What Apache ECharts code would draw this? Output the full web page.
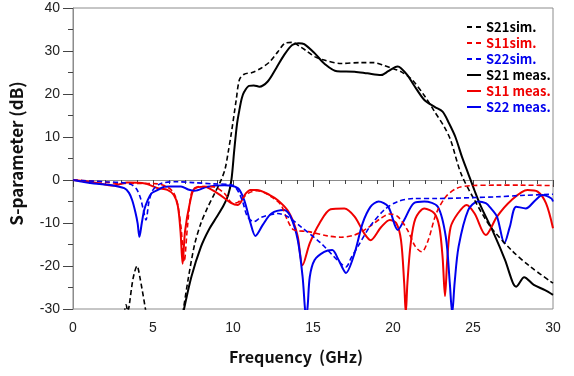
<!DOCTYPE html>
<html>
<head>
<meta charset="utf-8">
<script src="https://cdn.jsdelivr.net/npm/echarts@6/dist/echarts.min.js"></script>
<style>
  html, body { margin: 0; padding: 0; background: #fff; }
  #chart { width: 574px; height: 376px; }
</style>
</head>
<body>
<div id="chart"></div>
<script>
// [GHz, dB] pairs; null breaks the line
const s21Sim = [
  [3.2, -31], [3.32, -29], [3.42, -30.5], [3.5, -29.5], [3.75, -23], [4.0, -20], [4.2, -23], [4.55, -30.5],
  [5.5, null],
  [6.85, -31], [6.9, -30], [7.2, -23], [7.6, -15], [8, -10], [8.4, -6.5], [8.8, -3.5], [9.2, -0.5], [9.5, 2.5],
  [9.7, 6.5], [9.9, 11], [10.2, 18.6], [10.4, 23.3], [10.7, 24.6], [11.2, 25], [11.75, 26], [12.3, 27.5],
  [12.8, 29.8], [13.3, 31.9], [13.7, 32], [14.2, 31], [14.6, 30], [15.1, 28.7], [15.7, 27.9], [16.75, 27.1],
  [18, 27.3], [18.8, 27.3], [19.4, 26.7], [19.9, 26], [20.5, 25.2], [21.2, 23.3], [22, 19.4], [22.6, 15.9],
  [23.2, 12.4], [23.6, 9.3], [24.25, 1.5], [25.1, -4.7], [26.1, -10.9], [27.4, -16.3], [28.6, -20.2], [30, -24]
];
const s11Sim = [
  [0, 0], [1, -0.2], [2, -0.5], [3, -0.8], [4, -0.8], [5, -0.8], [5.7, -1.3], [6.2, -2.5], [6.5, -5],
  [6.75, -11], [6.95, -19], [7.15, -11], [7.4, -3.1], [7.7, -1.8], [8, -1.5], [8.8, -1.6], [9.46, -3.1],
  [9.98, -5.4], [10.3, -5.2], [10.6, -4.2], [11, -3], [11.5, -2.5], [12, -3], [12.4, -3.9], [13, -5.8],
  [13.4, -9.3], [13.8, -11.6], [14.7, -12], [15.9, -13], [16.75, -13.3], [17.6, -12.8], [18.4, -11.2],
  [19.25, -8.9], [19.8, -7.9], [20.3, -8.5], [20.9, -11.6], [21.4, -15.5], [21.8, -16.7], [22.2, -14],
  [22.7, -7.8], [23.3, -3.9], [24, -1.9], [24.9, -1.3], [26.5, -1.2], [28, -1.2], [30, -1.3]
];
const s22Sim = [
  [0, 0], [1, -0.2], [2, -0.4], [3, -0.6], [3.6, -1], [3.95, -2], [4.2, -4], [4.4, -7], [4.56, -9.3],
  [4.75, -5], [5, -2.3], [5.5, -0.8], [6.5, -0.4], [7.5, -0.6], [8.8, -0.9], [9.9, -1.1], [10.3, -2.5],
  [10.6, -5], [10.9, -8.5], [11.3, -9.7], [11.75, -8.7], [12.8, -7.8], [13.4, -8.5], [14.25, -10.9],
  [15.5, -14.7], [16.3, -17.8], [16.8, -19.6], [17.06, -20.2], [17.4, -18], [17.8, -15.5], [18.6, -10.6],
  [19.5, -6.8], [20.3, -5], [21.3, -4.3], [22.8, -4.3], [24.9, -4.1], [26.5, -3.9], [28, -3.6], [30, -3.3]
];
const s21Meas = [
  [6.9, -31], [6.94, -30], [7.4, -22.5], [8, -15.5], [8.5, -11.5], [9, -8.5], [9.4, -6], [9.7, -3.5],
  [9.9, 0], [10.08, 7], [10.25, 13], [10.4, 16.3], [10.55, 19], [10.7, 20.5], [11, 21.9], [11.3, 22],
  [11.65, 21.7], [12.17, 22.9], [12.7, 26], [13.2, 29.1], [13.7, 31.4], [14.1, 31.8], [14.45, 31.6],
  [15.1, 29.5], [15.7, 27.1], [16.5, 25.3], [17.6, 25.2], [18.4, 24.8], [19.25, 24.4], [19.7, 25.3],
  [20.1, 26.2], [20.3, 26.4], [20.5, 26], [20.9, 24.4], [21.3, 22.1], [21.96, 18.6], [22.6, 17],
  [23.1, 15.9], [23.5, 13.2], [23.9, 10], [24.3, 5.5], [24.7, 1.5], [25.1, -2.5], [25.5, -6.2],
  [26.3, -12.4], [27, -18.6], [27.5, -24], [27.7, -24.8], [28.2, -22.6], [28.8, -24.4], [29.5, -25.6], [30, -26.7]
];
const s11Meas = [
  [0, 0], [1, -0.4], [1.8, -0.9], [2.4, -1.3], [2.9, -1], [3.4, -0.6], [4.5, -0.8], [5.3, -1.9], [5.9, -2.3],
  [6.3, -3.5], [6.55, -6], [6.72, -12], [6.85, -19.5], [7.0, -12], [7.3, -5.4], [7.6, -1.9], [8.2, -1.55],
  [9.04, -3.1], [9.9, -5.4], [10.3, -5.8], [10.8, -3.1], [11.1, -2.3], [11.5, -2.3], [12.3, -3.5],
  [12.8, -4.7], [13.4, -7], [13.8, -10], [14.05, -13.2], [14.35, -19.8], [14.8, -14.7], [15.4, -10.1],
  [16.1, -6.8], [16.96, -6.6], [17.6, -8.5], [18.2, -12.4], [18.6, -14], [19.25, -11], [19.8, -9.3],
  [20.2, -10], [20.5, -14], [20.7, -24], [20.8, -31], [20.9, -24], [21.1, -15], [21.4, -9], [21.96, -6.6],
  [22.6, -7.8], [22.9, -11], [23.1, -18], [23.25, -27], [23.4, -18], [23.6, -11], [24.05, -7.8],
  [24.6, -5.8], [25.1, -7.8], [25.8, -12.8], [26.5, -8.5], [27.4, -4.7], [28.4, -2.3], [29.04, -2.7],
  [29.56, -5.4], [30, -11.2]
];
const s22Meas = [
  [0, 0], [1.3, -0.8], [2.4, -1.2], [3.2, -1.9], [3.5, -3], [3.7, -4.7], [3.9, -7.5], [4.04, -10.1],
  [4.15, -13.2], [4.3, -10], [4.45, -7], [4.67, -4.7], [4.9, -3.1], [5.3, -2.3], [5.7, -1.55], [6.1, -1.5],
  [6.75, -1.5], [7.2, -2.2], [7.6, -2.5], [8.4, -1.55], [9.46, -1.2], [10.3, -1.9], [10.7, -4.7],
  [11.1, -10.1], [11.4, -13], [11.85, -10.5], [12.4, -7.8], [13.2, -7], [13.6, -8.5], [14.05, -14],
  [14.35, -22.5], [14.5, -30], [14.55, -31], [14.65, -30], [14.8, -22.5], [15.1, -18.6], [15.7, -16.7],
  [16.2, -16.3], [16.6, -18.6], [17.06, -21.6], [17.6, -17], [18.1, -10.1], [18.6, -6.2], [19.1, -5],
  [19.7, -6.2], [20.3, -11.6], [20.7, -9.3], [21.3, -5.4], [21.96, -5], [22.8, -6.2], [23.3, -13.2],
  [23.55, -24], [23.7, -31], [23.85, -24], [24.1, -15.5], [24.7, -7], [25.3, -5], [25.8, -5.4],
  [26.1, -6.5], [26.5, -8.5], [26.96, -14.7], [27.3, -10.9], [27.7, -6.2], [28.3, -6.6], [28.9, -4.7],
  [29.35, -3.5], [29.9, -4.3], [30, -5]
];

const names = ['S21sim.', 'S11sim.', 'S22sim.', 'S21 meas.', 'S11 meas.', 'S22 meas.'];
const colors = ['#000000', '#f00000', '#0000ee', '#000000', '#f00000', '#0000ee'];
const dataSets = [s21Sim, s11Sim, s22Sim, s21Meas, s11Meas, s22Meas];

// legend samples: two short dashes for sim, one bar for meas
const dashIcon = 'path://M0,0h5v2h-5z M9,0h5v2h-5z';
const solidIcon = 'path://M0,0h14v2h-14z';

const chart = echarts.init(document.getElementById('chart'));

const series = dataSets.map((d, i) => ({
  name: names[i],
  type: 'line',
  data: d,
  showSymbol: false,
  symbol: 'none',
  smooth: 0.3,
  clip: true,
  z: i < 3 ? 3 : 2,
  lineStyle: {
    color: colors[i],
    width: i < 3 ? 1.6 : 2,
    type: i < 3 ? [5, 3] : 'solid'
  },
  itemStyle: { color: colors[i] }
}));

const axisFont = '"Liberation Sans", Arial, sans-serif';
const titleFont = '"Noto Sans CJK KR", "Noto Sans", sans-serif';

chart.setOption({
  animation: false,
  backgroundColor: '#fff',
  grid: {
    left: 72, right: 21, top: 8, bottom: 67,
    show: true, borderColor: '#8c8c8c', borderWidth: 1
  },
  legend: {
    orient: 'vertical',
    left: 462,
    top: 15,
    itemWidth: 14,
    itemHeight: 2,
    itemGap: 2,
    textStyle: { fontFamily: titleFont, fontWeight: 'bold', fontSize: 13, lineHeight: 14 },
    data: names.map((n, i) => ({
      name: n,
      icon: i < 3 ? dashIcon : solidIcon,
      itemStyle: { color: colors[i] },
      textStyle: { color: colors[i] }
    }))
  },
  xAxis: {
    type: 'value',
    min: 0, max: 30, interval: 5,
    name: 'Frequency  (GHz)',
    nameLocation: 'middle',
    nameGap: 40,
    nameTextStyle: { fontFamily: titleFont, fontWeight: 'bold', fontSize: 16, color: '#111', padding: [0, 34, 0, 0] },
    axisLine: { lineStyle: { color: '#8c8c8c' } },
    axisTick: { length: 7, lineStyle: { color: '#444' } },
    minorTick: { show: true, splitNumber: 5, length: 4, lineStyle: { color: '#444' } },
    splitLine: { show: false },
    axisLabel: { fontFamily: axisFont, fontSize: 14, color: '#222', margin: 12 }
  },
  yAxis: {
    type: 'value',
    min: -30, max: 40, interval: 10,
    name: 'S-parameter (dB)',
    nameLocation: 'middle',
    nameGap: 48,
    nameTextStyle: { fontFamily: titleFont, fontWeight: 'bold', fontSize: 17, color: '#111', padding: [0, 0, 0, 10] },
    axisLine: { show: true, lineStyle: { color: '#8c8c8c' } },
    axisTick: { show: true, length: 10, lineStyle: { color: '#444' } },
    minorTick: { show: true, splitNumber: 2, length: 5, lineStyle: { color: '#444' } },
    splitLine: { show: false },
    axisLabel: { fontFamily: axisFont, fontSize: 14, color: '#222', margin: 13 }
  },
  series: series
});
</script>
</body>
</html>
